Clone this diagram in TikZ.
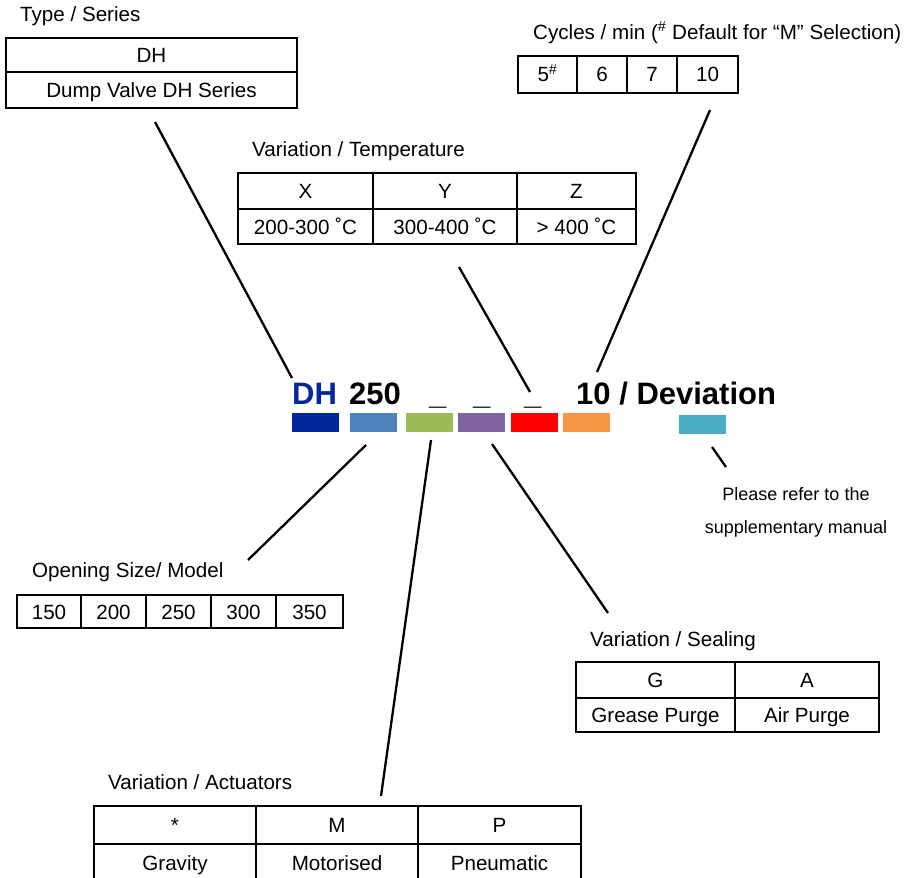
\documentclass[tikz,border=0pt]{standalone}
\usepackage{fontspec}
\setmainfont{Liberation Sans}
\definecolor{cDH}{RGB}{0,40,155}
\definecolor{cSB}{RGB}{79,129,189}
\definecolor{cGR}{RGB}{155,187,89}
\definecolor{cPU}{RGB}{128,100,162}
\definecolor{cRD}{RGB}{255,0,0}
\definecolor{cOR}{RGB}{247,150,70}
\definecolor{cTE}{RGB}{75,172,198}
\tikzset{
  cell/.style={draw=black, line width=1.6pt, anchor=north west, inner sep=0pt, outer sep=0pt,
    text height=15pt, text depth=0pt, font=\fontsize{20.6}{24}\selectfont},
  lbl/.style={anchor=west, inner sep=0pt, text height=15pt, text depth=0pt, font=\fontsize{20.6}{24}\selectfont},
  code/.style={anchor=base west, inner sep=0pt, font=\fontsize{31}{36}\selectfont\bfseries},
  bar/.style={anchor=north west, inner sep=0pt, outer sep=0pt, minimum height=19pt, minimum width=47pt},
  conn/.style={line width=2.3pt, black},
  note/.style={inner sep=0pt, text height=13pt, text depth=0pt, font=\fontsize{18}{22}\selectfont}
}
\begin{document}
\begin{tikzpicture}[x=1pt,y=-1pt]
\useasboundingbox[fill=white] (0,0) rectangle (909,877);

% Type / Series
\node[lbl] (typelbl) at (20,14) {Type / Series};
\node[cell, minimum width=291pt, minimum height=34pt] (typeA) at (6,38) {DH};
\node[cell, minimum width=291pt, minimum height=36pt] (typeB) at (6,72) {Dump Valve DH Series};

% Cycles
\node[lbl] (cyclbl) at (533,32) {Cycles / min (\textsuperscript{\#} Default for “M” Selection)};
\node[cell, minimum width=59pt, minimum height=37pt] (cyc1) at (518,56) {5\textsuperscript{\#}};
\node[cell, minimum width=50pt, minimum height=37pt] (cyc2) at (577,56) {6};
\node[cell, minimum width=50pt, minimum height=37pt] (cyc3) at (627,56) {7};
\node[cell, minimum width=61pt, minimum height=37pt] (cyc4) at (677,56) {10};

% Temperature
\node[lbl] (templbl) at (252,149) {Variation / Temperature};
\node[cell, minimum width=135pt, minimum height=36pt] (tX) at (238,173) {X};
\node[cell, minimum width=144pt, minimum height=36pt] (tY) at (373,173) {Y};
\node[cell, minimum width=119pt, minimum height=36pt] (tZ) at (517,173) {Z};
\node[cell, minimum width=135pt, minimum height=35pt] (tX2) at (238,209) {200-300 ˚C};
\node[cell, minimum width=144pt, minimum height=35pt] (tY2) at (373,209) {300-400 ˚C};
\node[cell, minimum width=119pt, minimum height=35pt] (tZ2) at (517,209) {> 400 ˚C};

% Code row
\node[code, text=cDH] (cDHt) at (292,404) {DH};
\node[code] (c250) at (349,404) {250};
\node[code] (u1) at (429,404) {\_};
\node[code] (u2) at (473,404) {\_};
\node[code] (u3) at (524,404) {\_};
\node[code] (cdev) at (576,404) {10 / Deviation};

\node[bar, fill=cDH] (b1) at (292,413) {};
\node[bar, fill=cSB] (b2) at (350,413) {};
\node[bar, fill=cGR] (b3) at (406,413) {};
\node[bar, fill=cPU] (b4) at (458,413) {};
\node[bar, fill=cRD] (b5) at (511,413) {};
\node[bar, fill=cOR] (b6) at (563,413) {};
\node[bar, fill=cTE] (b7) at (679,415) {};

% Note
\node[note] (note1) at (796,494) {Please refer to the};
\node[note] (note2) at (796,527) {supplementary manual};

% Opening size
\node[lbl] (openlbl) at (32,570) {Opening Size/ Model};
\node[cell, minimum width=64pt, minimum height=33pt] (o1) at (17,595) {150};
\node[cell, minimum width=65pt, minimum height=33pt] (o2) at (81,595) {200};
\node[cell, minimum width=65pt, minimum height=33pt] (o3) at (146,595) {250};
\node[cell, minimum width=65pt, minimum height=33pt] (o4) at (211,595) {300};
\node[cell, minimum width=67pt, minimum height=33pt] (o5) at (276,595) {350};

% Sealing
\node[lbl] (seallbl) at (590,639) {Variation / Sealing};
\node[cell, minimum width=159pt, minimum height=36pt] (sG) at (576,662) {G};
\node[cell, minimum width=144pt, minimum height=36pt] (sA) at (735,662) {A};
\node[cell, minimum width=159pt, minimum height=34pt] (sG2) at (576,698) {Grease Purge};
\node[cell, minimum width=144pt, minimum height=34pt] (sA2) at (735,698) {Air Purge};

% Actuators
\node[lbl] (actlbl) at (108,782) {Variation / Actuators};
\node[cell, minimum width=162pt, minimum height=38pt] (aS) at (94,806) {*};
\node[cell, minimum width=162pt, minimum height=38pt] (aM) at (256,806) {M};
\node[cell, minimum width=163pt, minimum height=38pt] (aP) at (418,806) {P};
\node[cell, minimum width=162pt, minimum height=37pt] (aS2) at (94,844) {Gravity};
\node[cell, minimum width=162pt, minimum height=37pt] (aM2) at (256,844) {Motorised};
\node[cell, minimum width=163pt, minimum height=37pt] (aP2) at (418,844) {Pneumatic};

% Connector ends
\coordinate (k1a) at (155,122); \coordinate (k1b) at (292,378);
\coordinate (k2a) at (459,267); \coordinate (k2b) at (530,392);
\coordinate (k3a) at (710,110); \coordinate (k3b) at (597,372);
\coordinate (k4a) at (712,447); \coordinate (k4b) at (726,467);
\coordinate (k5a) at (366,445); \coordinate (k5b) at (248,560);
\coordinate (k6a) at (431,440); \coordinate (k6b) at (381,796);
\coordinate (k7a) at (492,444); \coordinate (k7b) at (608,613);

\draw[conn] (k1a) -- (k1b);
\draw[conn] (k2a) -- (k2b);
\draw[conn] (k3a) -- (k3b);
\draw[conn] (k4a) -- (k4b);
\draw[conn] (k5a) -- (k5b);
\draw[conn] (k6a) -- (k6b);
\draw[conn] (k7a) -- (k7b);
\end{tikzpicture}
\end{document}
